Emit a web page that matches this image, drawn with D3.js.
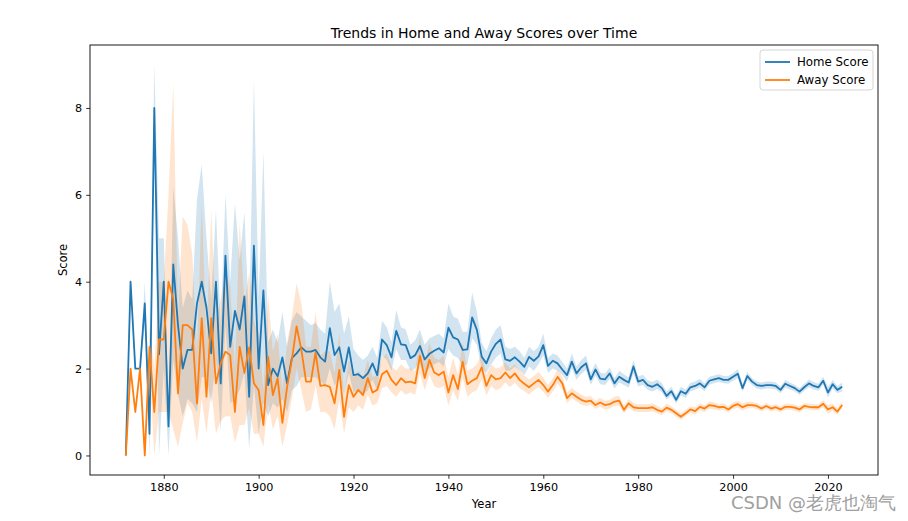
<!DOCTYPE html>
<html><head><meta charset="utf-8">
<script src="https://cdn.jsdelivr.net/npm/d3@7/dist/d3.min.js"></script>
<style>body{margin:0;background:#fff;} text{font-family:"DejaVu Sans",sans-serif;}</style>
</head><body><svg id="chart" width="908" height="521"></svg>
<script>
const years = d3.range(1872, 2024);
const homeScore = [0,4,2,2,3.5,0.5,8,2.33,4,0.67,4.4,3.0,2.0,2.43,2.43,3.5,4.0,3.4,2.35,4.0,
1.66,4.6,2.5,3.33,2.9,3.66,1.35,4.83,2.0,3.8,1.62,2.0,1.82,2.26,1.66,2.24,2.35,2.49,2.39,2.39,
2.43,2.26,2.16,2.93,2.31,2.49,1.93,2.49,1.85,1.87,1.78,1.89,2.12,1.85,2.67,2.54,2.26,2.87,2.56,2.54,
2.24,2.31,2.52,2.21,2.34,2.41,2.47,2.37,2.94,2.72,2.67,2.43,2.44,3.18,2.89,2.28,2.12,2.39,2.57,2.67,
2.21,2.18,2.26,2.16,2.04,2.27,2.18,2.28,2.54,2.06,2.18,2.12,1.98,1.85,2.16,1.89,2.03,2.12,1.75,1.98,
1.77,1.75,1.89,1.66,1.81,1.74,1.68,2.05,1.7,1.74,1.62,1.58,1.64,1.55,1.37,1.48,1.28,1.48,1.42,1.57,
1.6,1.66,1.57,1.72,1.75,1.78,1.74,1.74,1.81,1.88,1.55,1.83,1.7,1.62,1.6,1.62,1.62,1.6,1.51,1.65,
1.6,1.55,1.47,1.57,1.66,1.6,1.57,1.72,1.45,1.64,1.51,1.58];
const homeLow = [0,4,2,2,3,0,7,0,2,0,2.2,1.4,0.9,1.3,1.2,1.0,1.8,1.8,1.2,2.2,
0.55,3.0,1.2,1.3,1.5,1.9,0.16,1.6,0.5,1.2,0.9,1.2,1.1,1.3,1.0,1.5,1.6,1.8,1.8,1.8,
1.8,1.7,1.6,2.0,1.6,1.8,1.4,1.9,1.45,1.5,1.4,1.5,1.75,1.5,2.3,2.2,1.95,2.45,2.2,2.2,
1.95,2.0,2.2,1.9,2.0,2.1,2.15,2.05,2.45,2.3,2.25,2.05,2.1,2.7,2.55,2.0,1.9,2.1,2.25,2.35,
1.95,1.95,2.05,1.95,1.85,2.05,1.95,2.1,2.3,1.9,2.0,1.95,1.85,1.7,2.0,1.75,1.88,1.97,1.62,1.84,
1.64,1.62,1.76,1.54,1.68,1.62,1.56,1.88,1.59,1.62,1.51,1.47,1.53,1.45,1.28,1.38,1.19,1.38,1.32,1.47,
1.51,1.57,1.48,1.63,1.66,1.69,1.66,1.65,1.72,1.78,1.46,1.74,1.62,1.54,1.52,1.54,1.54,1.52,1.43,1.56,
1.52,1.47,1.39,1.49,1.57,1.52,1.49,1.63,1.33,1.54,1.43,1.48];
const homeHigh = [0,4,2,2,4,1,9,5,5,1,6.2,5.0,3.4,3.8,3.6,5.9,6.7,5.0,3.6,5.65,
3.0,6.0,4.0,5.8,4.5,5.6,3.0,8.66,3.6,7.0,2.6,2.9,2.6,3.3,2.5,3.1,3.3,3.2,3.1,3.0,
3.05,2.9,2.8,4.0,3.3,3.5,2.8,3.2,2.45,2.3,2.2,2.3,2.5,2.25,3.1,2.95,2.6,3.35,2.95,2.9,
2.55,2.65,2.9,2.55,2.7,2.75,2.8,2.7,3.5,3.2,3.15,2.85,2.85,3.75,3.3,2.6,2.4,2.7,2.9,3.0,
2.5,2.45,2.5,2.4,2.25,2.5,2.4,2.5,2.8,2.25,2.35,2.3,2.15,2.0,2.35,2.05,2.2,2.3,1.9,2.13,
1.91,1.88,2.03,1.78,1.95,1.87,1.8,2.2,1.82,1.86,1.73,1.69,1.75,1.66,1.47,1.58,1.38,1.58,1.52,1.67,
1.7,1.76,1.66,1.81,1.84,1.87,1.83,1.83,1.9,1.99,1.64,1.93,1.78,1.7,1.68,1.7,1.7,1.68,1.59,1.74,
1.68,1.63,1.55,1.65,1.75,1.69,1.65,1.81,1.58,1.74,1.6,1.68];
const awayScore = [0,2,1,2,0,2.5,1,2.67,2.67,4.0,3.6,1.43,3.0,3.0,2.9,1.2,3.16,1.35,3.16,1.66,
2.12,2.39,2.31,1.0,2.5,1.9,2.49,1.66,1.5,0.7,2.27,1.39,1.78,0.75,1.58,2.2,2.97,2.43,1.7,1.7,
2.37,1.6,1.62,1.58,1.2,1.97,0.89,1.62,1.35,1.51,1.39,1.78,1.45,1.51,1.87,1.95,1.74,1.62,1.78,1.68,
1.7,1.66,2.29,1.78,2.2,1.91,1.85,1.93,1.45,1.85,1.53,2.16,1.64,1.72,1.78,2.03,1.6,1.85,1.75,1.78,
1.91,1.78,1.89,1.74,1.65,1.57,1.66,1.74,1.62,1.47,1.62,1.81,1.66,1.32,1.43,1.35,1.28,1.24,1.26,1.16,
1.22,1.16,1.18,1.24,1.26,1.05,1.2,1.11,1.09,1.09,1.09,1.11,1.05,1.01,1.1,1.05,0.97,0.89,0.97,1.06,
1.02,1.12,1.08,1.16,1.14,1.11,1.12,1.06,1.14,1.18,1.11,1.16,1.16,1.14,1.08,1.14,1.08,1.11,1.06,1.12,
1.12,1.1,1.06,1.14,1.12,1.11,1.11,1.19,1.06,1.11,1.01,1.16];
const awayLow = [0,2,1,2,0,2,0,1,1,1,0.6,0.2,0.74,1.2,1.0,0.3,1.3,0.5,1.5,0.5,
0.8,0.9,0.9,0.3,0.7,0.7,1.1,0.5,0.5,0.2,1.2,0.6,0.9,0.2,0.7,1.3,2.0,1.5,1.0,1.05,
1.6,1.0,1.0,0.9,0.6,1.3,0.5,1.1,1.0,1.15,1.05,1.4,1.15,1.2,1.55,1.6,1.45,1.35,1.5,1.4,
1.45,1.4,1.9,1.5,1.85,1.6,1.55,1.6,1.15,1.5,1.25,1.8,1.35,1.45,1.5,1.75,1.38,1.6,1.5,1.55,
1.68,1.57,1.68,1.55,1.48,1.4,1.5,1.57,1.46,1.33,1.47,1.65,1.52,1.2,1.31,1.24,1.17,1.14,1.16,1.07,
1.12,1.06,1.08,1.14,1.15,0.96,1.1,1.02,1.0,1.0,1.0,1.02,0.97,0.93,1.02,0.97,0.89,0.82,0.9,0.98,
0.94,1.04,1.0,1.08,1.06,1.04,1.05,0.99,1.07,1.1,1.03,1.08,1.09,1.07,1.01,1.07,1.01,1.04,0.99,1.05,
1.05,1.03,0.99,1.07,1.05,1.04,1.04,1.11,0.96,1.03,0.94,1.08];
const awayHigh = [0,2,1,2,0,3,2,4,4,6,8.57,3.2,5.5,5.3,4.65,2.4,5.8,2.6,5.65,3.1,
3.6,4.2,3.9,2.0,5.35,3.5,4.2,3.1,2.8,1.5,3.7,2.4,2.8,1.5,2.6,3.2,3.96,3.5,2.5,2.5,
3.3,2.3,2.4,2.4,1.9,2.8,1.4,2.2,1.8,1.95,1.8,2.2,1.8,1.85,2.25,2.35,2.05,1.95,2.1,2.0,
2.0,1.95,2.75,2.1,2.6,2.25,2.2,2.3,1.8,2.25,1.85,2.6,1.95,2.0,2.1,2.35,1.85,2.1,2.0,2.03,
2.15,2.0,2.1,1.94,1.84,1.75,1.83,1.92,1.79,1.62,1.78,1.98,1.81,1.45,1.56,1.47,1.4,1.35,1.37,1.26,
1.33,1.26,1.28,1.35,1.37,1.15,1.3,1.21,1.18,1.18,1.18,1.2,1.14,1.09,1.19,1.13,1.05,0.97,1.05,1.14,
1.1,1.2,1.15,1.24,1.22,1.18,1.2,1.13,1.22,1.26,1.19,1.24,1.23,1.21,1.15,1.21,1.15,1.18,1.13,1.19,
1.19,1.17,1.13,1.21,1.19,1.18,1.18,1.27,1.16,1.19,1.09,1.25];
const xTicks = [1880,1900,1920,1940,1960,1980,2000,2020];
const yTicks = [0,2,4,6,8];
const seriesNames = ["Home Score","Away Score"];
const colors = ["#1f77b4","#ff7f0e"];

const svg = d3.select("#chart");
const L = 90, R = 878, T = 45, B = 475;
const xExt = d3.extent(years), xPad = (xExt[1]-xExt[0])*0.05;
const yMin = d3.min([...homeLow, ...awayLow]), yMax = d3.max([...homeHigh, ...awayHigh]);
const yPad = (yMax - yMin)*0.05;
const x = d3.scaleLinear().domain([xExt[0]-xPad, xExt[1]+xPad]).range([L, R]);
const y = d3.scaleLinear().domain([yMin - yPad, yMax + yPad]).range([B, T]);

const series = [
  {name: seriesNames[0], mean: homeScore, lo: homeLow, hi: homeHigh, color: colors[0]},
  {name: seriesNames[1], mean: awayScore, lo: awayLow, hi: awayHigh, color: colors[1]}
];

const area = d3.area().x((d,i)=>x(years[i])).y0(d=>y(d[0])).y1(d=>y(d[1]));
const line = d3.line().x((d,i)=>x(years[i])).y(d=>y(d));

const g = svg.append("g");
series.forEach(s => {
  g.append("path").datum(s.lo.map((v,i)=>[v, s.hi[i]]))
    .attr("d", area).attr("fill", s.color).attr("fill-opacity", 0.2).attr("stroke", "none");
});
series.forEach(s => {
  g.append("path").datum(s.mean).attr("d", line)
    .attr("fill", "none").attr("stroke", s.color).attr("stroke-width", 1.8)
    .attr("stroke-linejoin", "round").attr("stroke-linecap", "butt");
});

// axes
const xAxis = svg.append("g").attr("transform", `translate(0,${B})`)
  .call(d3.axisBottom(x).tickValues(xTicks).tickFormat(d3.format("d")).tickSizeOuter(0).tickSize(3.8).tickPadding(4));
const yAxis = svg.append("g").attr("transform", `translate(${L},0)`)
  .call(d3.axisLeft(y).tickValues(yTicks).tickSizeOuter(0).tickSize(3.8).tickPadding(4));
[xAxis, yAxis].forEach(a => {
  a.select(".domain").remove();
  a.selectAll("text").attr("font-size", 11.2).attr("fill", "#000").attr("font-family", "DejaVu Sans");
  a.selectAll("line").attr("stroke", "#000").attr("stroke-width", 0.8);
});
svg.append("rect").attr("x", L).attr("y", T).attr("width", R-L).attr("height", B-T)
  .attr("fill", "none").attr("stroke", "#000").attr("stroke-width", 0.9);

svg.append("text").attr("x", (L+R)/2).attr("y", 38).attr("text-anchor", "middle")
  .attr("font-size", 14).text("Trends in Home and Away Scores over Time");
svg.append("text").attr("x", (L+R)/2).attr("y", 508).attr("text-anchor", "middle")
  .attr("font-size", 11.5).text("Year");
svg.append("text").attr("transform", `translate(67,${(T+B)/2}) rotate(-90)`).attr("text-anchor", "middle")
  .attr("font-size", 11.5).text("Score");

// legend
const lg = svg.append("g").attr("transform", "translate(760,50)");
lg.append("rect").attr("width", 113).attr("height", 40).attr("rx", 3)
  .attr("fill", "#fff").attr("fill-opacity", 0.8).attr("stroke", "#ccc").attr("stroke-width", 0.8);
series.forEach((s, i) => {
  const yy = 12 + i*18;
  lg.append("line").attr("x1", 5).attr("x2", 30).attr("y1", yy).attr("y2", yy)
    .attr("stroke", s.color).attr("stroke-width", 1.8);
  lg.append("text").attr("x", 37).attr("y", yy + 4).attr("font-size", 11.8).text(s.name);
});

// watermark
svg.append("text").attr("x", 896).attr("y", 509).attr("text-anchor", "end")
  .attr("font-size", 18).attr("fill", "#a0a0a0")
  .attr("font-family", "'Noto Sans CJK SC', 'DejaVu Sans', sans-serif").text("CSDN @老虎也淘气");
</script></body></html>
